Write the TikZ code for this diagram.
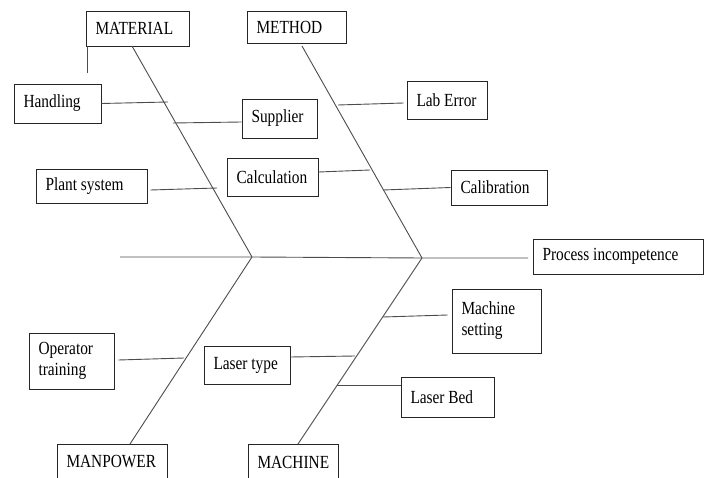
\documentclass[tikz,border=0pt]{standalone}
\usepackage{fontspec}
\setmainfont{Liberation Serif}[FakeStretch=0.83]
\begin{document}
\begin{tikzpicture}[x=1pt,y=-1pt,
  frame/.style={draw=black!85, line width=0.9pt, inner ysep=0pt, inner xsep=9.5pt,
    font=\fontsize{18.5}{21}\selectfont},
  box/.style={frame, execute at begin node={\hbox to #1\bgroup}, execute at end node={\hfil\egroup}},
  mbox/.style={frame, text width=#1, align=flush left},
  bone/.style={draw=black!70, line width=0.9pt}]
\useasboundingbox (0,0) rectangle (704,478);
\clip (0,0) rectangle (704,478);
% category boxes
\node[box=84pt, minimum height=35pt] (material) at (137.5,28.5) {MATERIAL};
\node[box=80pt, minimum height=32pt] (method) at (296.5,27) {METHOD};
\node[box=91pt, minimum height=36pt] (manpower) at (112,462) {MANPOWER};
\node[box=71pt, minimum height=36pt] (machine) at (293,462) {MACHINE};
% effect
\node[box=151pt, minimum height=35pt] (effect) at (618,256.5) {Process incompetence};
% causes
\node[box=68pt, minimum height=39pt] (handling) at (57.5,103.5) {Handling};
\node[box=56pt, minimum height=39pt] (supplier) at (279.5,118.5) {Supplier};
\node[box=92pt, minimum height=34pt] (plant) at (91.5,186) {Plant system};
\node[box=72pt, minimum height=38pt] (calc) at (272.5,177) {Calculation};
\node[box=61pt, minimum height=38pt] (lab) at (447,100) {Lab Error};
\node[box=77pt, minimum height=35pt] (calib) at (499,187.5) {Calibration};
\node[mbox=70pt, minimum height=64pt] (setting) at (496.5,321) {Machine\\setting};
\node[mbox=66pt, minimum height=56pt] (operator) at (71.5,361) {Operator\\training};
\node[box=67pt, minimum height=38pt] (lasertype) at (247,365) {Laser type};
\node[box=74pt, minimum height=40pt] (laserbed) at (447.5,397) {Laser Bed};
% spine coordinates
\coordinate (j1) at (252,257);
\coordinate (j2) at (422,258);
\coordinate (tail) at (120,257);
\coordinate (head) at (528,258);
\coordinate (mt) at (132,46);
\coordinate (me) at (302,46);
\coordinate (mp) at (130,444);
\coordinate (mc) at (298,444);
\coordinate (st1) at (87,46);
\coordinate (st2) at (87,73);
% main spine and bones
\draw[bone] (tail) -- (j1) -- (j2) -- (head);
\draw[bone] (mt) -- (j1);
\draw[bone] (me) -- (j2);
\draw[bone] (mp) -- (j1);
\draw[bone] (mc) -- (j2);
\draw[bone] (st1) -- (st2);
% branch points
\coordinate (bh) at (168,102);
\coordinate (bs) at (173,123);
\coordinate (bp) at (217,188);
\coordinate (bc) at (370,170);
\coordinate (bl) at (338,105);
\coordinate (bcal) at (383,190);
\coordinate (bms) at (383,317);
\coordinate (blb) at (337,385);
\coordinate (blt) at (355,356);
\coordinate (bo) at (184,358);
\draw[bone] (handling.east) -- (bh);
\draw[bone] (bs) -- ([yshift=-3.5pt]supplier.west);
\draw[bone] ([xshift=3pt,yshift=-4pt]plant.east) -- (bp);
\draw[bone] ([yshift=5pt]calc.east) -- (bc);
\draw[bone] (bl) -- ([xshift=-3pt,yshift=-3pt]lab.west);
\draw[bone] (bcal) -- (calib.west);
\draw[bone] (bms) -- ([xshift=-4pt,yshift=6pt]setting.west);
\draw[bone] (blb) -- ([yshift=12pt]laserbed.west);
\draw[bone] ([yshift=8pt]lasertype.east) -- (blt);
\draw[bone] ([xshift=4pt,yshift=1pt]operator.east) -- (bo);
\end{tikzpicture}
\end{document}
